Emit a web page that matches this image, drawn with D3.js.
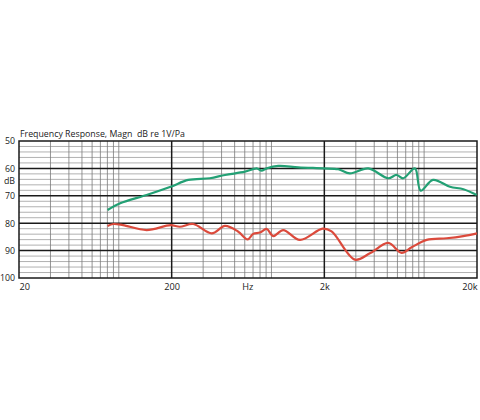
<!DOCTYPE html>
<html>
<head>
<meta charset="utf-8">
<script src="https://cdn.jsdelivr.net/npm/d3@7"></script>
<style>
  body { margin: 0; background: #fff; }
  svg { display: block; }
  text { font-family: "Open Sans", "Noto Sans", sans-serif; fill: #222; }
</style>
</head>
<body>
<svg width="480" height="420"></svg>
<script>
var chartTitle = 'Frequency Response, Magn  dB re 1V/Pa';

var xTickValues = [20, 200, 2000, 20000];
var xTickLabels = ['20', '200', '2k', '20k'];
var xUnit = { label: 'Hz', at: 630 };

var yTickValues = [50, 60, 70, 80, 90, 100];
var yUnit = { label: 'dB', at: 64.5 };
var yMinorStep = 2;

// minor lines inside each decade (the paper squeezes them toward the start)
var decadeMultipliers = [2, 3, 4, 5, 6, 7, 8, 9];
var decadeSqueeze = 0.685;

var greenFreq = [76, 92, 137, 197, 257, 356, 447, 604, 721, 776, 838, 998, 1350, 1970, 2470, 2940,
                 3880, 5240, 5940, 6570, 7840, 8550, 10300, 13300, 16300, 19900];
var greenDb = [75.2, 72.7, 69.7, 66.7, 64.2, 63.6, 62.4, 61.2, 60.0, 60.8, 60.0, 59.1, 59.6, 60.0, 60.3, 61.8,
               60.0, 63.6, 62.4, 63.6, 60.0, 68.1, 64.2, 66.7, 67.6, 69.7];

var redFreq = [76, 83, 96, 137, 197, 226, 277, 366, 447, 546, 629, 684, 757, 838, 925, 1076, 1385, 1950, 2231,
               3170, 3977, 5240, 6415, 7463, 9360, 12650, 16250, 20000];
var redDb = [81.0, 80.3, 80.7, 82.5, 80.7, 81.3, 80.3, 83.7, 81.0, 83.1, 85.9, 83.9, 83.4, 82.1, 84.7, 82.5, 86.1, 82.0, 83.0,
             93.3, 91.0, 87.2, 90.8, 88.8, 86.1, 85.5, 84.7, 83.7];

var fr = fr || {};

fr.chart = function() {
    'use strict';

    var left = 19, right = 477, top = 141, bottom = 278;

    var x = d3.scaleLog().domain([20, 20000]).range([left, right]);
    var y = d3.scaleLinear().domain([50, 100]).range([top, bottom]);

    function minor_freqs() {
        var out = [];
        xTickValues.slice(0, -1).forEach(function(start) {
            decadeMultipliers.forEach(function(m) {
                // position squeezed inside the decade, expressed back as a frequency
                out.push(start * Math.pow(m, decadeSqueeze));
            });
        });
        return out;
    }

    function pairs(freqs, dbs) {
        return freqs.map(function(f, i) { return [f, dbs[i]]; });
    }

    return {
        apply_to_page: function() {
            var svg = d3.select('svg');

            var minorDb = d3.range(yTickValues[0], yTickValues[yTickValues.length - 1], yMinorStep)
                .filter(function(v) { return yTickValues.indexOf(v) < 0; });

            svg.append('g').selectAll('line')
                .data(minorDb)
                .enter().append('line')
                .attr('x1', left).attr('x2', right)
                .attr('y1', function(d) { return y(d); })
                .attr('y2', function(d) { return y(d); })
                .attr('stroke', '#a8a8a8').attr('stroke-width', 0.9);

            svg.append('g').selectAll('line')
                .data(minor_freqs())
                .enter().append('line')
                .attr('x1', function(d) { return x(d); })
                .attr('x2', function(d) { return x(d); })
                .attr('y1', top).attr('y2', bottom)
                .attr('stroke', '#7a7a7a').attr('stroke-width', 0.8);

            svg.append('g').selectAll('line')
                .data(yTickValues.slice(1, -1))
                .enter().append('line')
                .attr('x1', left).attr('x2', right)
                .attr('y1', function(d) { return y(d); })
                .attr('y2', function(d) { return y(d); })
                .attr('stroke', '#1a1a1a').attr('stroke-width', 1.5);

            svg.append('g').selectAll('line')
                .data(xTickValues.slice(1, -1))
                .enter().append('line')
                .attr('x1', function(d) { return x(d); })
                .attr('x2', function(d) { return x(d); })
                .attr('y1', top).attr('y2', bottom)
                .attr('stroke', '#1a1a1a').attr('stroke-width', 1.5);

            svg.append('rect')
                .attr('x', left).attr('y', top)
                .attr('width', right - left).attr('height', bottom - top)
                .attr('fill', 'none').attr('stroke', '#1a1a1a').attr('stroke-width', 1.5);

            var line = d3.line()
                .x(function(d) { return x(d[0]); })
                .y(function(d) { return y(d[1]); })
                .curve(d3.curveCatmullRom.alpha(0.5));

            svg.append('path')
                .attr('d', line(pairs(greenFreq, greenDb)))
                .attr('fill', 'none').attr('stroke', '#23a074').attr('stroke-width', 2.2);

            svg.append('path')
                .attr('d', line(pairs(redFreq, redDb)))
                .attr('fill', 'none').attr('stroke', '#db4a3c').attr('stroke-width', 2.2);

            var xAxis = svg.append('g')
                .attr('transform', 'translate(0,' + bottom + ')')
                .call(d3.axisBottom(x).tickValues(xTickValues)
                    .tickFormat(function(d, i) { return xTickLabels[i]; })
                    .tickSize(0).tickPadding(5));
            xAxis.select('.domain').remove();
            xAxis.selectAll('text')
                .attr('font-size', 9.2).attr('fill', '#222').attr('font-family', null)
                .attr('text-anchor', function(d, i) {
                    return i === 0 ? 'start' : (i === xTickValues.length - 1 ? 'end' : 'middle');
                });

            var yAxis = svg.append('g')
                .attr('transform', 'translate(' + left + ',0)')
                .call(d3.axisLeft(y).tickValues(yTickValues).tickSize(0).tickPadding(4));
            yAxis.select('.domain').remove();
            yAxis.selectAll('text').attr('font-size', 8.8).attr('fill', '#222').attr('font-family', null);

            svg.append('text')
                .attr('x', x(xUnit.at)).attr('y', bottom + 5).attr('dy', '0.71em')
                .attr('text-anchor', 'middle').attr('font-size', 9.2)
                .text(xUnit.label);

            svg.append('text')
                .attr('x', left - 4).attr('y', y(yUnit.at)).attr('dy', '0.32em')
                .attr('text-anchor', 'end').attr('font-size', 8.8)
                .text(yUnit.label);

            svg.append('text')
                .attr('x', left + 1).attr('y', top - 4)
                .attr('font-size', 8.8)
                .style('white-space', 'pre')
                .text(chartTitle);
        }
    };
};

fr.chart().apply_to_page();
</script>
</body>
</html>
